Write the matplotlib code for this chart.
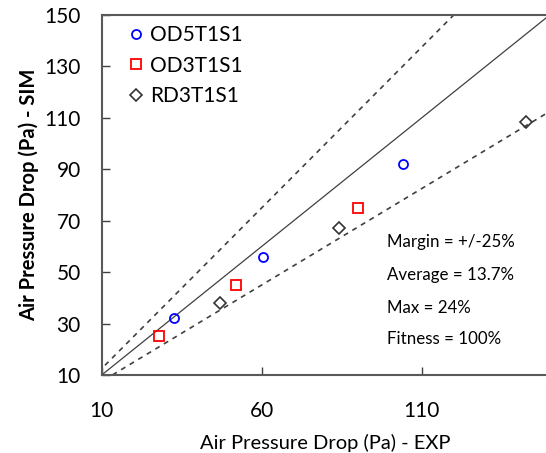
import numpy as np
import matplotlib.pyplot as plt

# Values
od5_exp = [32.5, 60.5, 104]
od5_sim = [32, 56, 92]
od3_exp = [28, 52, 90]
od3_sim = [25, 45, 75]
rd3_exp = [47, 84, 142.5]
rd3_sim = [38, 67, 108.5]

notes = ['Margin = +/-25%', 'Average = 13.7%', 'Max = 24%', 'Fitness = 100%']
note_y = [241.7, 275, 308, 339]
margin = 0.25

plt.rcParams['font.family'] = ['Lato', 'DejaVu Sans']

fig = plt.figure(figsize=(5.46, 4.53), dpi=100)
ax = fig.add_axes([101.7 / 546, 78 / 453, 448 / 546, 360 / 453])

# Reference lines: y = x and +/- margin
xl = np.array([0, 160])
ax.plot(xl, xl, color='#404040', linewidth=0.9)
ax.plot(xl, xl * (1 + margin), color='#404040', linewidth=1.2, linestyle=(0, (3, 3)))
ax.plot(xl, xl * (1 - margin), color='#404040', linewidth=1.2, linestyle=(0, (3, 3)))

ax.plot(od5_exp, od5_sim, 'o', markersize=6.5, markerfacecolor='none',
        markeredgecolor='#0000FF', markeredgewidth=1.3, linestyle='none', label='OD5T1S1')
ax.plot(od3_exp, od3_sim, 's', markersize=6.5, markerfacecolor='none',
        markeredgecolor='#FF0000', markeredgewidth=1.3, linestyle='none', label='OD3T1S1')
ax.plot(rd3_exp, rd3_sim, 'D', markersize=6.0, markerfacecolor='none',
        markeredgecolor='#333333', markeredgewidth=1.2, linestyle='none', label='RD3T1S1')

ax.set_xlim(10, 150)
ax.set_ylim(10, 150)
ax.set_xticks([10, 60, 110])
ax.set_yticks(np.arange(10, 151, 20))
ax.tick_params(axis='both', direction='in', length=6, width=1, color='#404040', labelsize=15)
ax.tick_params(axis='x', pad=19)
ax.tick_params(axis='y', pad=15)

for s in ax.spines.values():
    s.set_color('#595959')
    s.set_linewidth(1.5)

ax.set_xlabel('Air Pressure Drop (Pa) - EXP', fontsize=14.5, labelpad=9)
ax.set_ylabel('Air Pressure Drop (Pa) - SIM', fontsize=14.5, fontweight='bold', labelpad=4)

leg = ax.legend(loc='upper left', bbox_to_anchor=(0.045, 0.995), frameon=False,
                fontsize=15, handlelength=0.6, handletextpad=0.35, labelspacing=0.5,
                borderaxespad=0)

for t, yp in zip(notes, note_y):
    ax.text(386.7 / 546, 1 - yp / 453, t, transform=fig.transFigure,
            fontsize=12.2, va='center', ha='left')

fig.savefig('out.png', dpi=100)
